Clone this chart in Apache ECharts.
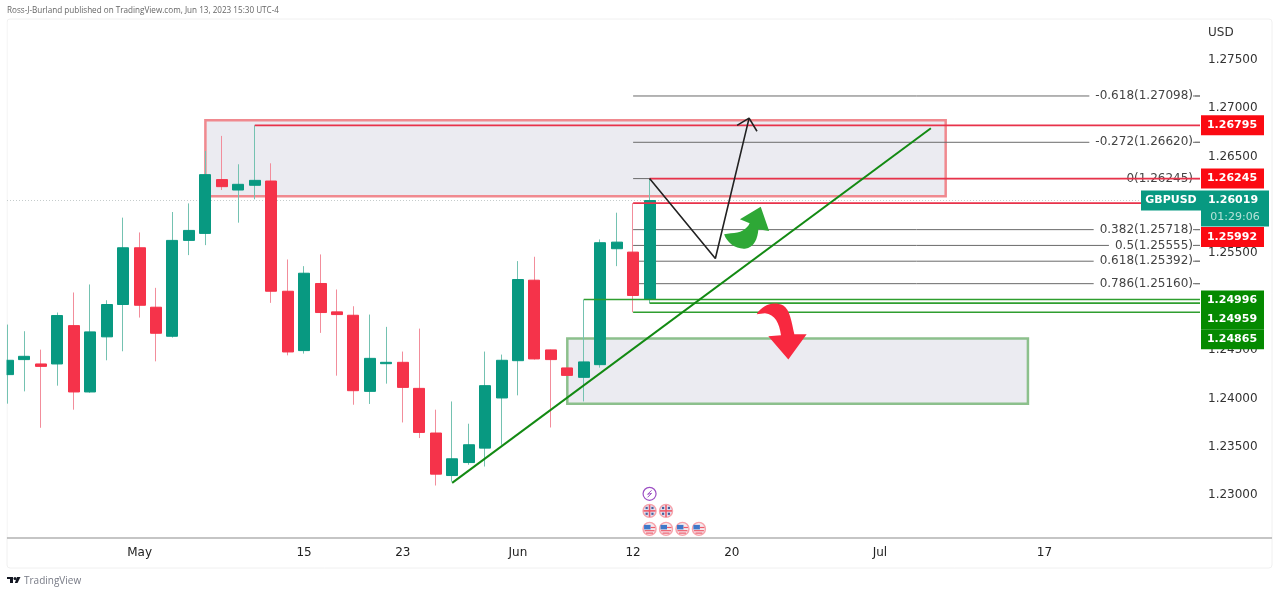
<!DOCTYPE html>
<html><head><meta charset="utf-8">
<style>html,body{margin:0;padding:0;background:#fff}#c{width:1280px;height:593px}</style>
<script src="https://cdn.jsdelivr.net/npm/echarts@6/dist/echarts.min.js"></script>
</head><body><div id="c"></div>
<script>
// Candles: index is the position on the daily time scale (0 = Apr 19)
const opens  = [1.24221,1.24376,1.24331,1.24331,1.24727,1.24042,1.24611,1.24945,1.25531,1.24917,1.24617,1.25607,1.25679,1.26235,1.26127,1.26176,1.26220,1.25082,1.24469,1.25162,1.24869,1.24834,1.24048,1.24334,1.24348,1.24079,1.23618,1.23179,1.23313,1.23462,1.23980,1.24365,1.25196,1.24476,1.24290,1.24193,1.24324,1.25521,1.25486,1.25000];
const closes = [1.24369,1.24410,1.24306,1.24831,1.24042,1.24662,1.24945,1.25531,1.24937,1.24648,1.25607,1.25710,1.26286,1.26162,1.26186,1.26227,1.25082,1.24455,1.25268,1.24862,1.24841,1.24055,1.24389,1.24348,1.24089,1.23624,1.23193,1.23352,1.23497,1.24107,1.24369,1.25203,1.24383,1.24376,1.24213,1.24352,1.25583,1.25589,1.25038,1.26019];
const lows   = [1.23921,1.24048,1.23672,1.24107,1.23859,1.24034,1.24369,1.24462,1.24810,1.24358,1.24603,1.25455,1.25558,1.26127,1.25790,1.26031,1.24962,1.24420,1.24438,1.24652,1.24210,1.23910,1.23918,1.24128,1.23727,1.23566,1.23076,1.23117,1.23290,1.23272,1.23497,1.24007,1.24376,1.23675,1.24210,1.23944,1.24293,1.25341,1.24865,1.24959];
const highs  = [1.24738,1.24669,1.24479,1.24862,1.25069,1.25152,1.24989,1.25842,1.25689,1.25117,1.25900,1.25989,1.26530,1.26686,1.26393,1.26795,1.26403,1.25410,1.25341,1.25462,1.25100,1.24927,1.24841,1.24714,1.24459,1.24696,1.23859,1.23944,1.23714,1.24459,1.24428,1.25393,1.25438,1.24479,1.24293,1.24996,1.25617,1.25893,1.25992,1.26245];

// Axis ticks
const xTickIndex  = [8,18,24,31,38,44,53,63];
const xTickLabels = ['May','15','23','Jun','12','20','Jul','17'];
const yTicks = [1.23,1.235,1.24,1.245,1.25,1.255,1.26,1.265,1.27,1.275];

// Fibonacci retracement levels
const fibPrices = [1.27098,1.26620,1.26245,1.25718,1.25555,1.25392,1.25160];
const fibLabels = ['-0.618(1.27098)','-0.272(1.26620)','0(1.26245)','0.382(1.25718)','0.5(1.25555)','0.618(1.25392)','0.786(1.25160)'];
const fibStart = 38;

// Horizontal drawn levels
const redLevels = [1.26795,1.26245,1.25992];
const redStarts = [15,39,38];
const greenLevels = [1.24996,1.24959,1.24865];
const greenStarts = [35,39,38];
const lastPrice = 1.26019;
const countdown = '01:29:06';
const symbolName = 'GBPUSD';

// Zones: [from index, to index, top price, bottom price]
const redZone = [12,57,1.26848,1.26062];
const greenZone = [34,62,1.24593,1.23921];

// Drawn lines
const trendLine = [[27,1.23103],[56.1,1.26765]];
const zigZag = [[39,1.26245],[43,1.25420],[45.05,1.26869]];
const arrowHeadLine = [[44.32,1.26795],[45.05,1.26869],[45.53,1.26734]];

// Event markers
const eventBolt = [[39,1.2299]];
const eventGB = [[39,1.22814],[40,1.22814]];
const eventUS = [[39,1.22628],[40,1.22628],[41,1.22628],[42,1.22628]];

// Curved arrows anchors
const upArrowAt = [[44.9,1.25738]];
const downArrowAt = [[47.03,1.24665]];

const xMin=-0.06, xMax=72.46, yMin=1.22534, yMax=1.27893;
const FONT='"DejaVu Sans",sans-serif';
const TEAL='#089981', RED='#f5334a';

const bodies = opens.map((o,i)=>[i,o,closes[i],Math.min(o,closes[i]),Math.max(o,closes[i])]);
const wicks  = opens.map((o,i)=>[i,o,closes[i],lows[i],highs[i]]);

function hLine(price,start,color,width,z){
  return {type:'line',data:[[start,price],[xMax,price]],symbol:'none',silent:true,animation:false,
    clip:false,z:z,lineStyle:{color:color,width:width,opacity:1}};
}
function poly(data,color,width,z){
  return {type:'line',data:data,symbol:'none',silent:true,animation:false,z:z,lineStyle:{color:color,width:width}};
}
function zone(box,fill,stroke){
  return {type:'custom',silent:true,animation:false,z:1,clip:false,data:[box],encode:{x:[0,1],y:[2,3]},
    renderItem(p,api){
      const a=api.coord([api.value(0),api.value(2)]), b=api.coord([api.value(1),api.value(3)]);
      return {type:'rect',shape:{x:a[0],y:a[1],width:b[0]-a[0],height:b[1]-a[1]},
        style:{fill:fill,stroke:stroke,lineWidth:2.5}};
    }};
}
function tagRect(x,y,w,h,fill){return {type:'rect',shape:{x:x,y:y,width:w,height:h},style:{fill:fill}};}
function tagText(x,y,t,fill,weight){return {type:'text',style:{x:x,y:y,text:t,fill:fill,align:'center',verticalAlign:'middle',font:(weight||'normal')+' 11px '+FONT}};}

// Pixel spread of the price tags so that they stack without overlap
const redTagShift = [0,0,34];
const greenTagShift = [1,16,27];

const option={
  backgroundColor:'#fff',animation:false,
  title:{text:'Ross-J-Burland published on TradingView.com, Jun 13, 2023 15:30 UTC-4',left:2,top:2,
    textStyle:{fontFamily:'"Open Sans",sans-serif',fontSize:8.15,fontWeight:'normal',color:'#666'}},
  grid:{left:7,top:19,width:1193,height:519,show:false},
  xAxis:{type:'value',min:xMin,max:xMax,splitLine:{show:false},
    axisLine:{show:false},axisTick:{show:false},
    axisLabel:{customValues:xTickIndex,color:'#222',fontFamily:FONT,fontSize:12,margin:9,
      formatter:v=>xTickLabels[xTickIndex.indexOf(v)]||''}},
  yAxis:{type:'value',position:'right',min:yMin,max:yMax,splitLine:{show:false},
    axisLine:{show:false},axisTick:{show:false},
    axisLabel:{customValues:yTicks,margin:8,
      rich:{p:{color:'#333',fontFamily:FONT,fontSize:12,padding:[5,0,0,0]}},
      formatter:v=>'{p|'+v.toFixed(5)+'}'}},
  graphic:[
    {type:'rect',z:-1,shape:{x:7,y:19,width:1265,height:549,r:3},style:{fill:'#fff',stroke:'#f0f0f0',lineWidth:1}},
    {type:'rect',z:50,shape:{x:0,y:20,width:6.5,height:517},style:{fill:'#fff'}},
    {type:'line',z:3,shape:{x1:7,y1:538,x2:1272,y2:538},style:{stroke:'#b2b2b2',lineWidth:1.5}},
    {type:'text',x:1208,y:27,style:{text:'USD',fill:'#333',font:'12px '+FONT}},
    {type:'polygon',shape:{points:[[7,577],[13,577],[13,583],[10,583],[10,579],[7,579]]},style:{fill:'#131722'}},
    {type:'circle',shape:{cx:15,cy:578.5,r:1.5},style:{fill:'#131722'}},
    {type:'polygon',shape:{points:[[17,577],[20.5,577],[17.5,583],[14.8,583]]},style:{fill:'#131722'}},
    {type:'text',x:24,y:576,style:{text:'TradingView',fill:'#787b86',font:'10px "Open Sans",sans-serif'}}
  ],
  series:[
    zone(redZone,'#ebebf1','#f0898f'),
    zone(greenZone,'#ebebf1','#8cc08c'),
    {type:'line',data:[[xMin,lastPrice],[68.8,lastPrice]],symbol:'none',silent:true,z:2,lineStyle:{color:'#c5cccc',width:1,type:[1,2]}},
    ...fibPrices.map(p=>hLine(p,fibStart,'#6a6a6a',1,3)),
    {type:'custom',silent:true,z:4,clip:false,data:fibPrices.map(p=>[xMax,p]),encode:{x:0,y:1},
      renderItem(par,api){
        const c=api.coord([api.value(0),api.value(1)]);
        return {type:'group',children:[
          {type:'text',style:{x:c[0]-7,y:c[1],text:fibLabels[par.dataIndex],align:'right',verticalAlign:'middle',
            font:'12px '+FONT,fill:'#444',backgroundColor:'#fff',padding:[0,0,0,6]}},
          {type:'rect',shape:{x:c[0]-5,y:c[1]-0.5,width:5,height:1},style:{fill:'#777'}}
        ]};
      }},
    {type:'candlestick',data:wicks,encode:{x:0,y:[1,2,3,4]},barWidth:1,silent:true,z:5,clip:true,
      itemStyle:{color:'#74c2b1',color0:'#f28d9b',borderColor:'#74c2b1',borderColor0:'#f28d9b',borderWidth:1}},
    {type:'candlestick',data:bodies,encode:{x:0,y:[1,2,3,4]},barWidth:11.5,silent:true,z:6,clip:true,
      itemStyle:{color:TEAL,color0:RED,borderColor:TEAL,borderColor0:RED,borderWidth:1}},
    ...redLevels.map((p,i)=>hLine(p,redStarts[i],'#e8324a',1.6,7)),
    ...greenLevels.map((p,i)=>hLine(p,greenStarts[i],'#2f9e2f',1.6,7)),
    poly(trendLine,'#138a13',2,8),
    poly(zigZag,'#222',1.6,8),
    poly(arrowHeadLine,'#222',1.6,8),
    {type:'scatter',data:upArrowAt,silent:true,z:9,symbolSize:[45,42],
      symbol:'path://M0 83 C8 108 35 128 62 126 C90 124 100 95 102 68 L134 73 L109 0 L47 38 L76 50 C68 68 48 80 20 80 Z',
      itemStyle:{color:'#2ea836',opacity:1}},
    {type:'scatter',data:downArrowAt,silent:true,z:9,symbolSize:[50,56],
      symbol:'path://M0 37 C20 8 50 0 80 12 C100 24 105 60 113 94 L150 94 L95 167 L35 100 L73 97 C68 62 55 37 25 34 Z',
      itemStyle:{color:'#f8283f',opacity:1}},
    {type:'custom',silent:true,z:9,clip:false,data:eventBolt,encode:{x:0,y:1},
      renderItem(par,api){const c=api.coord([api.value(0),api.value(1)]);
        return {type:'group',children:[
          {type:'circle',shape:{cx:c[0],cy:c[1],r:6.5},style:{fill:'#fff',stroke:'#9c4fc4',lineWidth:1.2}},
          {type:'polyline',shape:{points:[[c[0]+2,c[1]-3.5],[c[0]-2,c[1]+0.5],[c[0]+2,c[1]-0.5],[c[0]-2,c[1]+3.5]]},style:{fill:'none',stroke:'#9c4fc4',lineWidth:1}}
        ]};}},
    {type:'custom',silent:true,z:9,clip:false,data:eventGB,encode:{x:0,y:1},
      renderItem(par,api){const c=api.coord([api.value(0),api.value(1)]);
        return {type:'group',children:[
          {type:'circle',shape:{cx:c[0],cy:c[1],r:6.5},style:{fill:'#dfe2f2',stroke:'#f7a3ab',lineWidth:1.4}},
          {type:'rect',shape:{x:c[0]-6,y:c[1]-0.8,width:12,height:1.6},style:{fill:'#ef5a6a'}},
          {type:'rect',shape:{x:c[0]-0.8,y:c[1]-6,width:1.6,height:12},style:{fill:'#ef5a6a'}},
          {type:'rect',shape:{x:c[0]-4,y:c[1]-4,width:2.2,height:2.2},style:{fill:'#4a5f9a'}},
          {type:'rect',shape:{x:c[0]+1.8,y:c[1]-4,width:2.2,height:2.2},style:{fill:'#4a5f9a'}},
          {type:'rect',shape:{x:c[0]-4,y:c[1]+1.8,width:2.2,height:2.2},style:{fill:'#4a5f9a'}},
          {type:'rect',shape:{x:c[0]+1.8,y:c[1]+1.8,width:2.2,height:2.2},style:{fill:'#4a5f9a'}}
        ]};}},
    {type:'custom',silent:true,z:9,clip:false,data:eventUS,encode:{x:0,y:1},
      renderItem(par,api){const c=api.coord([api.value(0),api.value(1)]);
        return {type:'group',children:[
          {type:'circle',shape:{cx:c[0],cy:c[1],r:6.5},style:{fill:'#f4e9ee',stroke:'#f7a3ab',lineWidth:1.4}},
          {type:'rect',shape:{x:c[0]-5.5,y:c[1]-4,width:6.5,height:4.5},style:{fill:'#3f78c9'}},
          {type:'rect',shape:{x:c[0]+1,y:c[1]-2,width:4.5,height:1.2},style:{fill:'#ef5a6a'}},
          {type:'rect',shape:{x:c[0]-5,y:c[1]+1.2,width:10,height:1.2},style:{fill:'#ef5a6a'}},
          {type:'rect',shape:{x:c[0]-3.5,y:c[1]+3.6,width:7,height:1.2},style:{fill:'#ef5a6a'}}
        ]};}},
    // Price tags on the right scale
    {type:'custom',silent:true,z:20,clip:false,data:redLevels.map(p=>[xMax,p]),encode:{x:0,y:1},
      renderItem(par,api){const c=api.coord([api.value(0),api.value(1)]),i=par.dataIndex,y=c[1]+redTagShift[i];
        return {type:'group',children:[tagRect(c[0]+1,y-10,63,20,'#fb0a12'),
          tagText(c[0]+32,y,api.value(1).toFixed(5),'#fff','bold')]};}},
    {type:'custom',silent:true,z:20,clip:false,data:greenLevels.map(p=>[xMax,p]),encode:{x:0,y:1},
      renderItem(par,api){const c=api.coord([api.value(0),api.value(1)]),i=par.dataIndex,y=c[1]+greenTagShift[i];
        return {type:'group',children:[tagRect(c[0]+1,y-10,63,20,'#058a00'),
          tagText(c[0]+32,y,api.value(1).toFixed(5),'#fff','bold')]};}},
    {type:'custom',silent:true,z:21,clip:false,data:[[xMax,lastPrice]],encode:{x:0,y:1},
      renderItem(par,api){const c=api.coord([api.value(0),api.value(1)]);
        return {type:'group',children:[
          tagRect(c[0]-59,c[1]-10,60,20,TEAL),
          tagText(c[0]-29,c[1],symbolName,'#fff','bold'),
          tagRect(c[0]+1,c[1]-10,68,36,TEAL),
          tagText(c[0]+33,c[1],api.value(1).toFixed(5),'#fff','bold'),
          tagText(c[0]+35,c[1]+17,countdown,'#b5e2d8','normal')
        ]};}}
  ]
};
echarts.init(document.getElementById('c'),null,{renderer:'canvas'}).setOption(option);
</script></body></html>
